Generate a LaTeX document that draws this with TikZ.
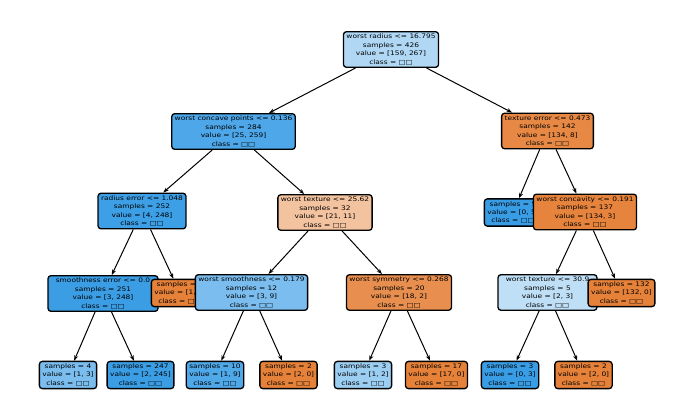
\documentclass[tikz,border=0pt]{standalone}
\usepackage{fontspec}
\newfontfamily\treefont[FakeStretch=1.2]{DejaVu Sans}
\usetikzlibrary{arrows.meta}

\definecolor{pos}{RGB}{57,157,229}
\definecolor{neg}{RGB}{229,129,57}

\begin{document}
\begin{tikzpicture}[x=1pt, y=-1pt,
    ec/.style={rectangle, draw, rounded corners=3pt, line width=1.3pt, align=center,
        inner xsep=3pt, inner ysep=2.5pt, font=\treefont\fontsize{6.2}{8.4}\selectfont}]
            \useasboundingbox (0,0) rectangle (677,413);

            \draw (391,49.5)    node[ec, fill=pos!40](00){worst radius <= 16.795\\samples = 426\\value = [159, 267]\\class = □□};
            \draw (233.5,131.5) node[ec, fill=pos!90](01){worst concave points <= 0.136\\samples = 284\\value = [25, 259]\\class = □□};
            \draw (142,211)     node[ec, fill=pos!98](02){radius error <= 1.048\\samples = 252\\value = [4, 248]\\class = □□};
            \draw (103,293.5)   node[ec, fill=pos!99, minimum width=110pt](03){smoothness error <= 0.0\\samples = 251\\value = [3, 248]\\class = □□};
            \draw (68,375)      node[ec, fill=pos!67](04){samples = 4\\value = [1, 3]\\class = □□};
            \draw (140.5,375)   node[ec, fill=pos!99](05){samples = 247\\value = [2, 245]\\class = □□};
            \draw (180,293)     node[ec, fill=neg](06){samples = 1\\value = [1, 0]\\class = □□};
            \draw (325,212.5)   node[ec, fill=neg!48](07){worst texture <= 25.62\\samples = 32\\value = [21, 11]\\class = □□};
            \draw (251.5,292.5) node[ec, fill=pos!67](08){worst smoothness <= 0.179\\samples = 12\\value = [3, 9]\\class = □□};
            \draw (215,375)     node[ec, fill=pos!89](09){samples = 10\\value = [1, 9]\\class = □□};
            \draw (288.5,375)   node[ec, fill=neg](10){samples = 2\\value = [2, 0]\\class = □□};
            \draw (399,292.5)   node[ec, fill=neg!89](11){worst symmetry <= 0.268\\samples = 20\\value = [18, 2]\\class = □□};
            \draw (363,375)     node[ec, fill=pos!50](12){samples = 3\\value = [1, 2]\\class = □□};
            \draw (436.5,375)   node[ec, fill=neg](13){samples = 17\\value = [17, 0]\\class = □□};
            \draw (547.5,131)   node[ec, fill=neg!94](14){texture error <= 0.473\\samples = 142\\value = [134, 8]\\class = □□};
            \draw (513,212.5)   node[ec, fill=pos](15){samples = 5\\value = [0, 5]\\class = □□};
            \draw (585,212)     node[ec, fill=neg!98](16){worst concavity <= 0.191\\samples = 137\\value = [134, 3]\\class = □□};
            \draw (547.5,292.5) node[ec, fill=pos!33, minimum width=99pt](17){worst texture <= 30.9\\samples = 5\\value = [2, 3]\\class = □□};
            \draw (510,375)     node[ec, fill=pos](18){samples = 3\\value = [0, 3]\\class = □□};
            \draw (583.5,375)   node[ec, fill=neg](19){samples = 2\\value = [2, 0]\\class = □□};
            \draw (621.5,293)   node[ec, fill=neg](20){samples = 132\\value = [132, 0]\\class = □□};

            \begin{scope}[-{Stealth[length=5.5pt, width=4pt]}, line width=1pt]
                \path (00) edge (01);
                \path (00) edge (14);
                \path (01) edge (02);
                \path (01) edge (07);
                \path (02) edge (03);
                \path (02) edge (06);
                \path (03) edge (04);
                \path (03) edge (05);
                \path (07) edge (08);
                \path (07) edge (11);
                \path (08) edge (09);
                \path (08) edge (10);
                \path (11) edge (12);
                \path (11) edge (13);
                \path (14) edge (15);
                \path (14) edge (16);
                \path (16) edge (17);
                \path (16) edge (20);
                \path (17) edge (18);
                \path (17) edge (19);
            \end{scope}
        \end{tikzpicture}
\end{document}
